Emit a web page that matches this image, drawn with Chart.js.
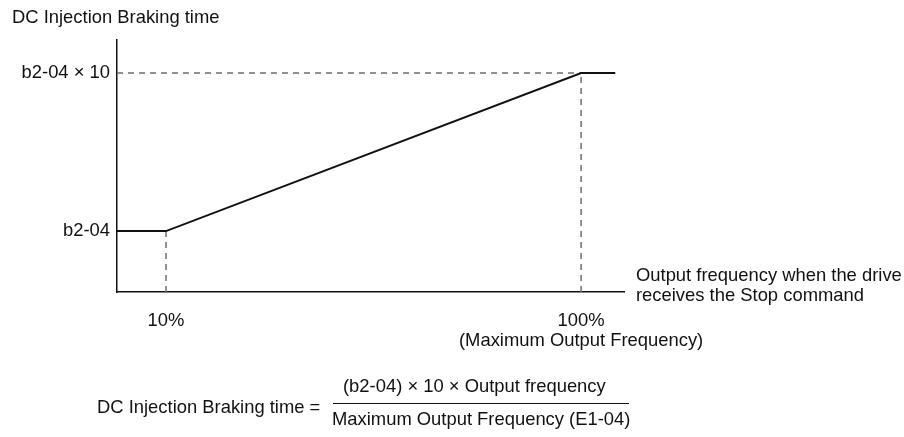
<!DOCTYPE html>
<html>
<head>
<meta charset="utf-8">
<script src="https://cdn.jsdelivr.net/npm/chart.js@4"></script>
<style>
    body { margin: 0; background: #fff; }
    #wrap { position: relative; width: 904px; height: 437px; font-family: 'Liberation Sans', Arial, sans-serif; font-size: 18.4px; color: #111; }
    #wrap div.txt { position: absolute; white-space: nowrap; line-height: 20px; }
    canvas { position: absolute; left: 0; top: 0; }
</style>
</head>
<body>
<div id="wrap">
    <canvas id="brakeChart" width="904" height="437"></canvas>
    <div class="txt" style="left:12px; top:7px;">DC Injection Braking time</div>
    <div class="txt" style="left:636px; top:265px;">Output frequency when the drive<br>receives the Stop command</div>
    <div class="txt" style="left:97px; top:397px;">DC Injection Braking time =</div>
    <div class="txt" style="left:343px; top:376px;">(b2-04) × 10 × Output frequency</div>
    <div style="position:absolute; left:333px; top:403px; width:296px; height:0; border-top:1.5px solid #111;"></div>
    <div class="txt" style="left:332px; top:409px;">Maximum Output Frequency (E1-04)</div>
</div>

<script>
// Output frequency (%) and braking time (multiples of b2-04)
const xMin = -0.63, xMax = 109.3;
const yMin = -2.47, yMax = 11.88;
const freqPct = [xMin, 10, 100, 107.4];
const brakeTime = [1, 1, 10, 10];

const xTicks = [10, 100];
const xTickLabels = [["10%"], ["100%", "(Maximum Output Frequency)"]];
const yTicks = [1, 10];
const yTickLabels = ["b2-04", "b2-04 × 10"];

const FONT = "'Liberation Sans', Arial, sans-serif";

function pts(xs, ys) {
    return xs.map((x, i) => ({ x: x, y: ys[i] }));
}

const dashStyle = { borderColor: '#6e6e6e', borderWidth: 1.5, borderDash: [6, 5], pointRadius: 0, showLine: true, fill: false };

const datasets = [
    { data: pts(freqPct, brakeTime), borderColor: '#111', borderWidth: 2, pointRadius: 0, showLine: true, fill: false },
    // guide lines
    Object.assign({ data: pts([xMin, 100], [10, 10]) }, dashStyle),
    Object.assign({ data: pts([100, 100], [yMin, 10]) }, dashStyle),
    Object.assign({ data: pts([10, 10], [yMin, 1]) }, dashStyle)
];

new Chart(document.getElementById('brakeChart').getContext('2d'), {
    type: 'scatter',
    data: { datasets: datasets },
    options: {
        responsive: false,
        animation: false,
        clip: false,
        layout: { padding: { left: 0, top: 40, right: 280, bottom: 0 } },
        plugins: { legend: { display: false }, tooltip: { enabled: false } },
        scales: {
            x: {
                type: 'linear', min: xMin, max: xMax,
                grid: { display: false, drawTicks: false },
                border: { display: true, color: '#111', width: 1.5 },
                afterBuildTicks: s => { s.ticks = xTicks.map(v => ({ value: v })); },
                afterFit: s => { s.height = 145; },
                ticks: {
                    autoSkip: false, maxRotation: 0, padding: 19, color: '#111',
                    font: { family: FONT, size: 18.4, lineHeight: 1.08 },
                    callback: (v, i) => xTickLabels[i]
                }
            },
            y: {
                type: 'linear', min: yMin, max: yMax,
                grid: { display: false, drawTicks: false },
                border: { display: true, color: '#111', width: 1.5 },
                afterBuildTicks: s => { s.ticks = yTicks.map(v => ({ value: v })); },
                afterFit: s => { s.width = 117; },
                ticks: {
                    autoSkip: false, padding: 7, color: '#111',
                    font: { family: FONT, size: 18.4 },
                    callback: (v, i) => yTickLabels[i]
                }
            }
        }
    }
});
</script>
</body>
</html>
